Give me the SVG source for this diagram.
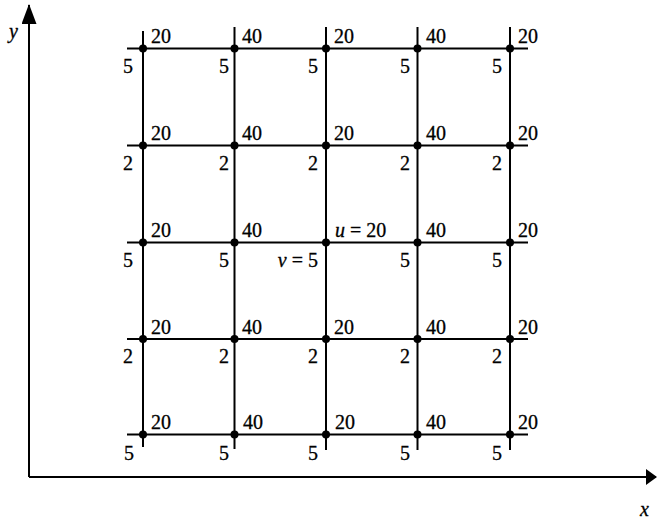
<svg xmlns="http://www.w3.org/2000/svg" width="657" height="519" viewBox="0 0 657 519">
<style>
.ln{stroke:#000;stroke-width:2;fill:none}
.ax{stroke:#000;stroke-width:2;fill:none}
.dot{fill:#000}
text{font-family:"Liberation Serif","Times New Roman",serif;font-size:20px;fill:#000;stroke:#000;stroke-width:0.3}
.e{text-anchor:end}
.i{font-style:italic}
</style>
<defs>
<marker id="arr" markerWidth="11" markerHeight="16" refX="10" refY="8" orient="auto" markerUnits="userSpaceOnUse">
<path d="M0,0 L11,8 L0,16 Z" fill="#000"/>
</marker>
<marker id="arrY" markerWidth="20" markerHeight="15" refX="19" refY="7.5" orient="auto" markerUnits="userSpaceOnUse">
<path d="M0,0 L20,7.5 L0,15 Z" fill="#000"/>
</marker>
</defs>
<g id="axes">
<line class="ax" x1="29" y1="477" x2="29" y2="5" marker-end="url(#arrY)"/>
<line class="ax" x1="29" y1="477" x2="656" y2="477" marker-end="url(#arr)"/>
<text class="i" x="9" y="38">y</text>
<text class="i" x="640" y="516">x</text>
</g>
<g id="connectors">
<line class="ln" x1="127" y1="48.5" x2="528" y2="48.5"/>
<line class="ln" x1="127" y1="145.5" x2="528" y2="145.5"/>
<line class="ln" x1="127" y1="242.5" x2="528" y2="242.5"/>
<line class="ln" x1="127" y1="339" x2="528" y2="339"/>
<line class="ln" x1="127" y1="434.5" x2="528" y2="434.5"/>
<line class="ln" x1="143" y1="31" x2="143" y2="447"/>
<line class="ln" x1="234.5" y1="27" x2="234.5" y2="449"/>
<line class="ln" x1="326" y1="27" x2="326" y2="450"/>
<line class="ln" x1="417.5" y1="27" x2="417.5" y2="450"/>
<line class="ln" x1="510" y1="27" x2="510" y2="450"/>
</g>
<g id="row1">
<g id="n11"><circle class="dot" cx="143" cy="48.5" r="4"/><text x="151" y="43">20</text><text class="e" x="133" y="73">5</text></g>
<g id="n12"><circle class="dot" cx="234.5" cy="48.5" r="4"/><text x="242" y="43">40</text><text class="e" x="229" y="73">5</text></g>
<g id="n13"><circle class="dot" cx="326" cy="48.5" r="4"/><text x="334" y="43">20</text><text class="e" x="318" y="73">5</text></g>
<g id="n14"><circle class="dot" cx="417.5" cy="48.5" r="4"/><text x="426" y="43">40</text><text class="e" x="410" y="73">5</text></g>
<g id="n15"><circle class="dot" cx="510" cy="48.5" r="4"/><text x="518" y="43">20</text><text class="e" x="502" y="73">5</text></g>
</g>
<g id="row2">
<g id="n21"><circle class="dot" cx="143" cy="145.5" r="4"/><text x="151" y="140">20</text><text class="e" x="133" y="170">2</text></g>
<g id="n22"><circle class="dot" cx="234.5" cy="145.5" r="4"/><text x="242" y="140">40</text><text class="e" x="229" y="170">2</text></g>
<g id="n23"><circle class="dot" cx="326" cy="145.5" r="4"/><text x="334" y="140">20</text><text class="e" x="318" y="170">2</text></g>
<g id="n24"><circle class="dot" cx="417.5" cy="145.5" r="4"/><text x="426" y="140">40</text><text class="e" x="410" y="170">2</text></g>
<g id="n25"><circle class="dot" cx="510" cy="145.5" r="4"/><text x="518" y="140">20</text><text class="e" x="502" y="170">2</text></g>
</g>
<g id="row3">
<g id="n31"><circle class="dot" cx="143" cy="242.5" r="4"/><text x="151" y="237">20</text><text class="e" x="133" y="267">5</text></g>
<g id="n32"><circle class="dot" cx="234.5" cy="242.5" r="4"/><text x="242" y="237">40</text><text class="e" x="229" y="267">5</text></g>
<g id="n33"><circle class="dot" cx="326" cy="242.5" r="4"/><text x="335" y="237"><tspan class="i">u</tspan> = 20</text><text class="e" x="318" y="267"><tspan class="i">v</tspan> = 5</text></g>
<g id="n34"><circle class="dot" cx="417.5" cy="242.5" r="4"/><text x="426" y="237">40</text><text class="e" x="410" y="267">5</text></g>
<g id="n35"><circle class="dot" cx="510" cy="242.5" r="4"/><text x="518" y="237">20</text><text class="e" x="502" y="267">5</text></g>
</g>
<g id="row4">
<g id="n41"><circle class="dot" cx="143" cy="339" r="4"/><text x="151" y="334">20</text><text class="e" x="133" y="363">2</text></g>
<g id="n42"><circle class="dot" cx="234.5" cy="339" r="4"/><text x="242" y="334">40</text><text class="e" x="229" y="363">2</text></g>
<g id="n43"><circle class="dot" cx="326" cy="339" r="4"/><text x="334" y="334">20</text><text class="e" x="318" y="363">2</text></g>
<g id="n44"><circle class="dot" cx="417.5" cy="339" r="4"/><text x="426" y="334">40</text><text class="e" x="410" y="363">2</text></g>
<g id="n45"><circle class="dot" cx="510" cy="339" r="4"/><text x="518" y="334">20</text><text class="e" x="502" y="363">2</text></g>
</g>
<g id="row5">
<g id="n51"><circle class="dot" cx="143" cy="434.5" r="4"/><text x="151" y="429">20</text><text class="e" x="134" y="460">5</text></g>
<g id="n52"><circle class="dot" cx="234.5" cy="434.5" r="4"/><text x="243" y="429">40</text><text class="e" x="229" y="460">5</text></g>
<g id="n53"><circle class="dot" cx="326" cy="434.5" r="4"/><text x="335" y="429">20</text><text class="e" x="318" y="460">5</text></g>
<g id="n54"><circle class="dot" cx="417.5" cy="434.5" r="4"/><text x="426" y="429">40</text><text class="e" x="410" y="460">5</text></g>
<g id="n55"><circle class="dot" cx="510" cy="434.5" r="4"/><text x="518" y="429">20</text><text class="e" x="502" y="460">5</text></g>
</g>
</svg>
